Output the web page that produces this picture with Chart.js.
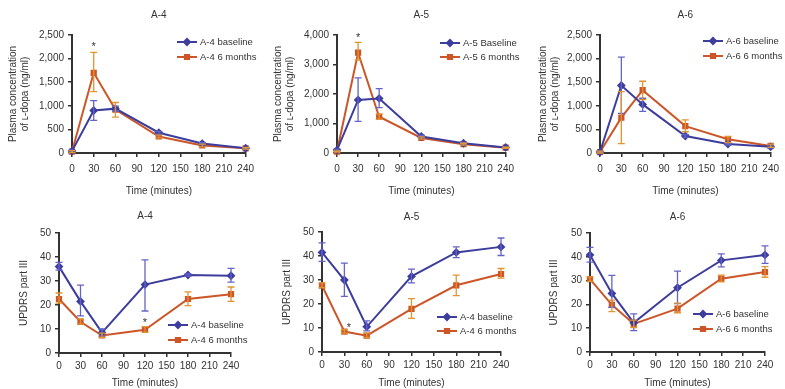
<!DOCTYPE html>
<html>
<head>
<meta charset="utf-8">
<script src="https://cdn.jsdelivr.net/npm/chart.js@4.4.1/dist/chart.umd.min.js"></script>
<style>
  body { margin: 0; background: #fff; }
  #wrap { position: relative; width: 785px; height: 389px; }
  canvas { position: absolute; }
</style>
</head>
<body>
<div id="wrap">
  <canvas id="p1" width="260" height="197" style="left:0px;top:0px"></canvas>
  <canvas id="p2" width="260" height="197" style="left:260px;top:0px"></canvas>
  <canvas id="p3" width="265" height="197" style="left:520px;top:0px"></canvas>
  <canvas id="p4" width="260" height="194" style="left:0px;top:195px"></canvas>
  <canvas id="p5" width="260" height="194" style="left:260px;top:195px"></canvas>
  <canvas id="p6" width="265" height="194" style="left:520px;top:195px"></canvas>
</div>
<script>
// sampling times (minutes)
var times = [0, 30, 60, 120, 180, 240];

// A-4 plasma L-dopa (ng/ml)
var a4PlasmaBase   = [40, 900, 940, 430, 200, 100];
var a4PlasmaBaseHi = [60, 1110, 990, 460, 220, 115];
var a4PlasmaBaseLo = [20, 690, 890, 400, 180, 85];
var a4PlasmaSix    = [30, 1700, 920, 350, 160, 100];
var a4PlasmaSixHi  = [50, 2130, 1070, 380, 190, 120];
var a4PlasmaSixLo  = [10, 1300, 760, 320, 130, 80];

// A-5 plasma L-dopa
var a5PlasmaBase   = [100, 1800, 1850, 560, 330, 190];
var a5PlasmaBaseHi = [130, 2550, 2180, 600, 360, 210];
var a5PlasmaBaseLo = [70, 1070, 1540, 520, 300, 170];
var a5PlasmaSix    = [50, 3400, 1230, 510, 300, 180];
var a5PlasmaSixHi  = [70, 3750, 1320, 550, 330, 200];
var a5PlasmaSixLo  = [30, 3150, 1150, 470, 270, 160];

// A-6 plasma L-dopa
var a6PlasmaBase   = [20, 1430, 1030, 360, 190, 130];
var a6PlasmaBaseHi = [40, 2030, 1160, 390, 210, 150];
var a6PlasmaBaseLo = [0, 840, 880, 330, 170, 110];
var a6PlasmaSix    = [20, 750, 1330, 570, 290, 150];
var a6PlasmaSixHi  = [40, 1300, 1520, 700, 350, 190];
var a6PlasmaSixLo  = [0, 200, 1130, 450, 220, 120];

// A-4 UPDRS part III
var a4UpdrsBase   = [36, 21.5, 8.5, 28.5, 32.5, 32.2];
var a4UpdrsBaseHi = [37.8, 28.3, 10, 38.8, 33, 35.3];
var a4UpdrsBaseLo = [34.5, 15.5, 7, 17.5, 32, 29.5];
var a4UpdrsSix    = [22.5, 13, 7.3, 9.7, 22.5, 24.5];
var a4UpdrsSixHi  = [25, 14.2, 8.3, 11, 25.5, 27.5];
var a4UpdrsSixLo  = [20.8, 12, 6.5, 8.6, 19.7, 21.5];

// A-5 UPDRS part III
var a5UpdrsBase   = [41.5, 30, 10.5, 31.5, 41.5, 43.8];
var a5UpdrsBaseHi = [45.5, 37, 13, 34.5, 43.8, 47.5];
var a5UpdrsBaseLo = [37.8, 23.2, 8.8, 28.8, 39.3, 40.2];
var a5UpdrsSix    = [27.7, 8.5, 6.8, 18, 27.8, 32.5];
var a5UpdrsSixHi  = [28.8, 9.3, 7.9, 22.2, 32, 34.8];
var a5UpdrsSixLo  = [26.8, 7.9, 6, 14, 23.5, 30.8];

// A-6 UPDRS part III
var a6UpdrsBase   = [40.8, 24.6, 12.3, 27, 38.5, 40.8];
var a6UpdrsBaseHi = [44, 32.2, 16, 34, 41.2, 44.6];
var a6UpdrsBaseLo = [37.8, 18.8, 9, 20.3, 35.8, 37.2];
var a6UpdrsSix    = [30.6, 19.8, 11.8, 18.2, 30.8, 33.6];
var a6UpdrsSixHi  = [31.6, 21.8, 13.4, 20.5, 32.3, 35.9];
var a6UpdrsSixLo  = [29.7, 17, 10.3, 16.5, 29.5, 31.4];

// significance marks [time, value]
var a4PlasmaStar = [30, 2290];
var a5PlasmaStar = [30, 3960];
var a4UpdrsStar  = [120, 13.5];
var a5UpdrsStar  = [36, 11];

var blue = '#3c3d9c', blueErr = '#6464c8';
var orange = '#cc5628', orangeErr = '#e0952f';

Chart.defaults.font.family = '"Liberation Sans", Arial, sans-serif';
Chart.defaults.font.size = 10;
Chart.defaults.color = '#333';

function pts(vals) {
  return times.map(function (t, i) { return { x: t, y: vals[i] }; });
}

// error bars with caps
var errorBars = {
  id: 'errorBars',
  afterDatasetsDraw: function (chart) {
    var ctx = chart.ctx, xs = chart.scales.x, ys = chart.scales.y;
    chart.data.datasets.forEach(function (ds) {
      ctx.save();
      ctx.strokeStyle = ds.errColor;
      ctx.lineWidth = 1.3;
      times.forEach(function (t, j) {
        var px = xs.getPixelForValue(t);
        var top = ys.getPixelForValue(ds.hi[j]);
        var bot = ys.getPixelForValue(ds.lo[j]);
        ctx.beginPath();
        ctx.moveTo(px, top); ctx.lineTo(px, bot);
        ctx.moveTo(px - 3.5, top); ctx.lineTo(px + 3.5, top);
        ctx.moveTo(px - 3.5, bot); ctx.lineTo(px + 3.5, bot);
        ctx.stroke();
      });
      ctx.restore();
    });
  }
};

// title, legend and asterisk drawn inside the panel
var panelDeco = {
  id: 'panelDeco',
  afterDraw: function (chart, args, o) {
    var ctx = chart.ctx, a = chart.chartArea;
    ctx.save();
    ctx.fillStyle = '#333';
    ctx.font = '10px "Liberation Sans", Arial, sans-serif';
    ctx.textAlign = 'center';
    ctx.textBaseline = 'middle';
    ctx.fillText(o.title, (a.left + a.right) / 2, o.titleY);
    if (o.star) {
      ctx.font = '11px "Liberation Sans", Arial, sans-serif';
      ctx.fillText('*', chart.scales.x.getPixelForValue(o.star[0]), chart.scales.y.getPixelForValue(o.star[1]) + 2);
    }
    ctx.font = '9.5px "Liberation Sans", Arial, sans-serif';
    ctx.textAlign = 'left';
    chart.data.datasets.forEach(function (ds, i) {
      var x = a.left + o.legX, y = a.top + o.legY + i * o.legGap;
      ctx.strokeStyle = ds.borderColor;
      ctx.lineWidth = 2;
      ctx.beginPath(); ctx.moveTo(x, y); ctx.lineTo(x + o.legLen, y); ctx.stroke();
      ctx.fillStyle = ds.borderColor;
      Chart.helpers.drawPoint(ctx, { pointStyle: ds.pointStyle, radius: 3, borderWidth: 1 }, x + o.legLen / 2, y);
      ctx.fillStyle = '#333';
      ctx.fillText(ds.label, x + o.legLen + 3, y);
    });
    ctx.restore();
  }
};

function panel(id, p) {
  var canvas = document.getElementById(id);
  return new Chart(canvas, {
    type: 'line',
    data: {
      datasets: [{
        label: p.names[0],
        data: pts(p.base), hi: p.baseHi, lo: p.baseLo,
        borderColor: blue, backgroundColor: blue, errColor: blueErr,
        borderWidth: 2, pointStyle: 'rectRot', pointRadius: 3, clip: false
      }, {
        label: p.names[1],
        data: pts(p.six), hi: p.sixHi, lo: p.sixLo,
        borderColor: orange, backgroundColor: orange, errColor: orangeErr,
        borderWidth: 2, pointStyle: 'rect', pointRadius: 3, clip: false
      }]
    },
    options: {
      responsive: false,
      animation: false,
      layout: { padding: { left: 0, top: p.area[1], right: p.area[2], bottom: 0 } },
      plugins: {
        legend: { display: false },
        tooltip: { enabled: false },
        panelDeco: { title: p.title, titleY: p.titleY, star: p.star,
                     legX: p.leg[0], legY: p.leg[1], legGap: p.leg[2], legLen: 20 }
      },
      scales: {
        x: {
          type: 'linear', min: 0, max: 240,
          border: { color: '#333', width: 2 },
          grid: { drawOnChartArea: false, color: '#333', tickLength: 4, lineWidth: 1.5 },
          ticks: { stepSize: 30, padding: p.xPad, color: '#333', maxRotation: 0 },
          title: { display: true, text: 'Time (minutes)', padding: { top: 0, bottom: 0 } },
          afterFit: function (s) { s.height = p.area[3]; }
        },
        y: {
          min: 0, max: p.yMax,
          border: { color: '#333', width: 2 },
          grid: { drawOnChartArea: false, color: '#333', tickLength: 4, lineWidth: 1.5 },
          ticks: { stepSize: p.yStep, padding: 4, color: '#333',
                   callback: function (v) { return v.toLocaleString('en-US'); } },
          title: { display: true, text: p.yTitle, padding: { top: p.yTitlePad, bottom: 0 },
                   font: { size: 10, lineHeight: 1.2 } },
          afterFit: function (s) { s.width = p.area[0]; }
        }
      }
    },
    plugins: [errorBars, panelDeco]
  });
}

var plasmaTitle = ['Plasma concentration', 'of \u029F-dopa (ng/ml)'];

panel('p1', { title: 'A-4', titleY: 15, area: [72, 35, 14, 44], xPad: 6, yMax: 2500, yStep: 500,
  yTitle: plasmaTitle, yTitlePad: 7, leg: [105, 7, 15], star: a4PlasmaStar,
  names: ['A-4 baseline', 'A-4 6 months'],
  base: a4PlasmaBase, baseHi: a4PlasmaBaseHi, baseLo: a4PlasmaBaseLo,
  six: a4PlasmaSix, sixHi: a4PlasmaSixHi, sixLo: a4PlasmaSixLo });

panel('p2', { title: 'A-5', titleY: 15, area: [77, 35, 9, 44], xPad: 6, yMax: 4000, yStep: 1000,
  yTitle: plasmaTitle, yTitlePad: 12, leg: [103, 8, 14], star: a5PlasmaStar,
  names: ['A-5 Baseline', 'A-5 6 months'],
  base: a5PlasmaBase, baseHi: a5PlasmaBaseHi, baseLo: a5PlasmaBaseLo,
  six: a5PlasmaSix, sixHi: a5PlasmaSixHi, sixLo: a5PlasmaSixLo });

panel('p3', { title: 'A-6', titleY: 15, area: [80, 35, 10, 44], xPad: 6, yMax: 2500, yStep: 500,
  yTitle: plasmaTitle, yTitlePad: 17, leg: [103, 6, 15], star: null,
  names: ['A-6 baseline', 'A-6 6 months'],
  base: a6PlasmaBase, baseHi: a6PlasmaBaseHi, baseLo: a6PlasmaBaseLo,
  six: a6PlasmaSix, sixHi: a6PlasmaSixHi, sixLo: a6PlasmaSixLo });

panel('p4', { title: 'A-4', titleY: 21, area: [59, 38, 29, 36], xPad: 3, yMax: 50, yStep: 10,
  yTitle: 'UPDRS part III', yTitlePad: 18, leg: [109, 92, 15], star: a4UpdrsStar,
  names: ['A-4 baseline', 'A-4 6 months'],
  base: a4UpdrsBase, baseHi: a4UpdrsBaseHi, baseLo: a4UpdrsBaseLo,
  six: a4UpdrsSix, sixHi: a4UpdrsSixHi, sixLo: a4UpdrsSixLo });

panel('p5', { title: 'A-5', titleY: 22, area: [62, 37, 19, 37], xPad: 3, yMax: 50, yStep: 10,
  yTitle: 'UPDRS part III', yTitlePad: 21, leg: [115, 85, 14], star: a5UpdrsStar,
  names: ['A-4 baseline', 'A-4 6 months'],
  base: a5UpdrsBase, baseHi: a5UpdrsBaseHi, baseLo: a5UpdrsBaseLo,
  six: a5UpdrsSix, sixHi: a5UpdrsSixHi, sixLo: a5UpdrsSixLo });

panel('p6', { title: 'A-6', titleY: 22, area: [70, 38, 20, 37], xPad: 3, yMax: 50, yStep: 10,
  yTitle: 'UPDRS part III', yTitlePad: 28, leg: [103, 81, 15], star: null,
  names: ['A-6 baseline', 'A-6 6 months'],
  base: a6UpdrsBase, baseHi: a6UpdrsBaseHi, baseLo: a6UpdrsBaseLo,
  six: a6UpdrsSix, sixHi: a6UpdrsSixHi, sixLo: a6UpdrsSixLo });
</script>
</body>
</html>
